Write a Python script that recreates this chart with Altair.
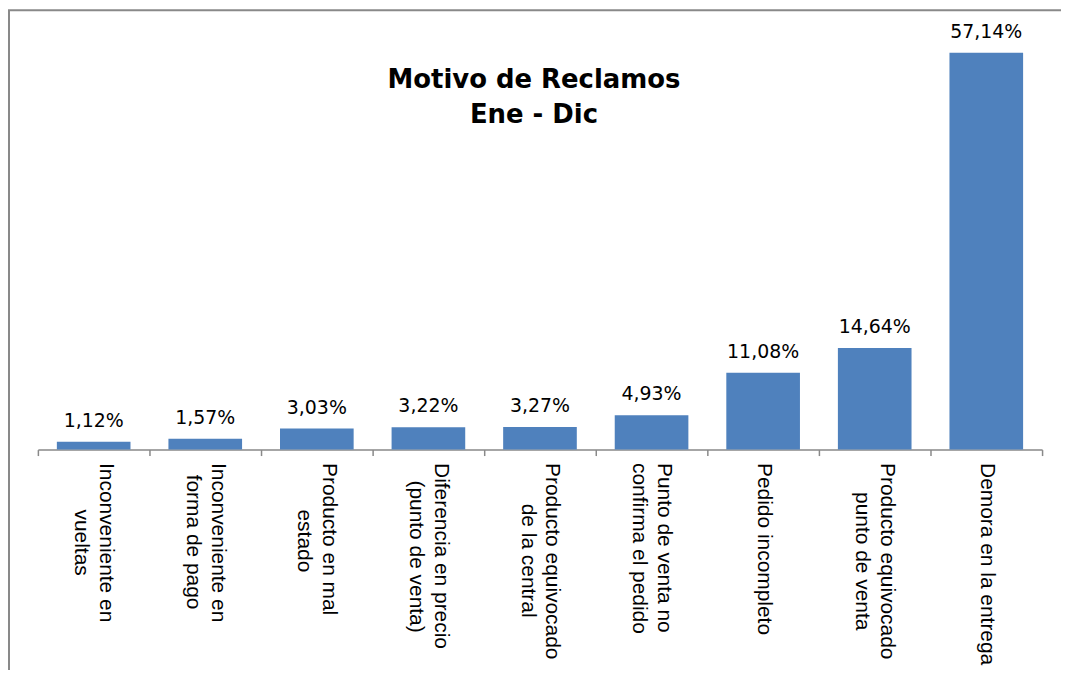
import altair as alt
import pandas as pd

NB = "\u00a0"
ZW = "\u200b"  # zero-width char so leading spaces are not trimmed

# Category names (line breaks marked with "|")
categories = [
    "Inconveniente en|vueltas",
    "Inconveniente en|forma de pago",
    "Producto en mal|estado",
    "Diferencia en precio|(punto de venta)",
    "Producto equivocado|de la central",
    "Punto de venta no|confirma el pedido",
    "Pedido incompleto",
    "Producto equivocado|punto de venta",
    "Demora en la entrega",
]
values = [1.12, 1.57, 3.03, 3.22, 3.27, 4.93, 11.08, 14.64, 57.14]

# non-breaking spaces used to centre the second line under the first
second_line_indent = [8, 2, 8, 3, 7, 0, 0, 5, 0]


def display_label(cat, indent):
    parts = cat.split("|")
    if len(parts) == 2:
        return parts[0] + "|" + ZW + NB * indent + parts[1]
    return cat


df = pd.DataFrame({
    "cat": [display_label(c, i) for c, i in zip(categories, second_line_indent)],
    "value": values,
    "label": [f"{v:.2f}".replace(".", ",") + "%" for v in values],
})

x_enc = alt.X(
    "cat:N",
    sort=None,
    scale=alt.Scale(paddingInner=0, paddingOuter=0),
    axis=alt.Axis(
        title=None,
        labelAngle=90,
        labelAlign="left",
        labelBaseline="middle",
        labelExpr="split(datum.label, '|')",
        labelFont="Liberation Sans",
        labelFontSize=21,
        labelLineHeight=25,
        labelColor="black",
        labelLimit=400,
        labelOverlap=False,
        labelPadding=7,
        labelOffset={
            "condition": {"test": "indexof(datum.label, '|') >= 0", "value": 12},
            "value": 0,
        },
        ticks=True,
        tickBand="extent",
        tickSize=6,
        tickColor="#898989",
        tickWidth=1.5,
        domainColor="#898989",
        domainWidth=1.5,
        grid=False,
    ),
)

base = alt.Chart(df).encode(x=x_enc)

bars = base.mark_bar(color="#4F81BD", width=alt.RelativeBandSize(0.66)).encode(
    y=alt.Y("value:Q", scale=alt.Scale(domain=[0, 61.7], nice=False), axis=None)
)

text = base.mark_text(
    baseline="alphabetic", dy=-15, font="DejaVu Sans", fontSize=19, color="black"
).encode(
    y=alt.Y("value:Q"),
    text="label:N",
)

frame = alt.Chart(alt.Data(values=[{}])).mark_rect(
    fillOpacity=0, stroke="#898989", strokeWidth=2
).encode(
    x=alt.value(-29), x2=alt.value(1200), y=alt.value(-11), y2=alt.value(900)
)

chart = alt.layer(frame, bars, text).properties(
    width=1008,
    height=430,
    padding={"left": 30, "top": 12, "right": 19, "bottom": 220},
    autosize=alt.AutoSizeParams(type="none"),
    title=alt.TitleParams(
        text=["Motivo de Reclamos", "Ene - Dic"],
        font="DejaVu Sans",
        fontSize=26,
        fontWeight="bold",
        color="black",
        anchor="middle",
        lineHeight=35,
        baseline="top",
        offset=0,
        dx=-6,
        dy=119,
    ),
).configure_view(stroke=None)

chart.save("out.html", embed_options={"renderer": "svg", "actions": False})
